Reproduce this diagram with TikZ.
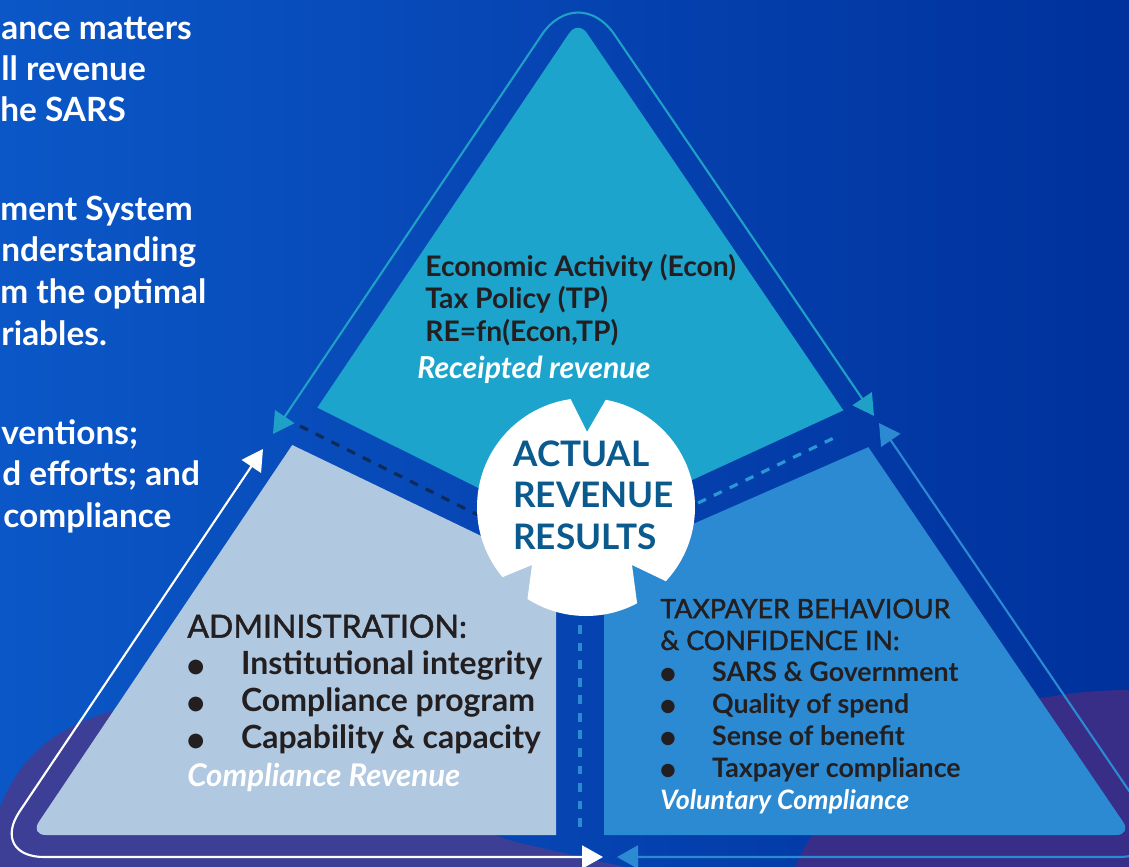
\documentclass[tikz,border=0pt]{standalone}
\usepackage{fontspec}
\setmainfont{Lato}
\newfontfamily\headfont{Lato}[FakeBold=1.5]
\newfontfamily\symfont{DejaVu Sans}
\usetikzlibrary{arrows.meta}

\definecolor{bgleft}{HTML}{0B57C7}
\definecolor{bgright}{HTML}{00319C}
\definecolor{blobleft}{HTML}{3D3F97}
\definecolor{blobright}{HTML}{382E88}
\definecolor{econcyan}{HTML}{1DA4CD}
\definecolor{adminblue}{HTML}{B0C8E0}
\definecolor{payerblue}{HTML}{2B8AD2}
\definecolor{tealline}{HTML}{1FA0C6}
\definecolor{inktext}{HTML}{231F20}
\definecolor{resultblue}{HTML}{0B5A8E}
\definecolor{darkdash}{HTML}{0C2B58}
\definecolor{lightdash}{HTML}{2A98D6}

% bullet with a fixed indent
\newcommand{\bul}[2]{\makebox[#1][l]{\raisebox{1.2pt}{\symfont\fontsize{#2}{#2}\selectfont ●}}}

\tikzset{
  sideline/.style={line width=1.2pt, rounded corners=1.1cm,
    {Triangle[length=0.42cm,width=0.46cm]}-{Triangle[length=0.42cm,width=0.46cm]}},
  banddash/.style={line width=1.8pt, dash pattern=on 5pt off 5pt},
  blocktext/.style={anchor=base west, align=left, inner sep=0pt, text=inktext},
  sidetext/.style={anchor=base west, inner sep=0pt, text=white,
    font=\bfseries\fontsize{19}{22}\selectfont},
}

\begin{document}
\begin{tikzpicture}[x=0.02cm, y=-0.02cm]
  \useasboundingbox (0,0) rectangle (1129,866);

  % background and the two soft blobs
  \shade[left color=bgleft, right color=bgright] (0,0) rectangle (1129,866);
  \fill[blobleft] (-5,820) .. controls (20,750) and (60,710) .. (200,695)
    .. controls (350,685) and (420,820) .. (520,843)
    .. controls (560,852) and (600,862) .. (640,870) -- (-5,870) -- cycle;
  \fill[blobright] (1130,940) ellipse (350 and 250);

  % corners of the inner and outer triangle
  \coordinate (apex) at (578,20);
  \coordinate (bl) at (30,835);
  \coordinate (br) at (1132,835);
  \coordinate (oapex) at (578,-19);
  \coordinate (obl) at (-11,857);
  \coordinate (obr) at (1174,857);

  % arrow ends
  \coordinate (tealL) at (273,434);
  \coordinate (whiteL) at (263,449);
  \coordinate (tealR) at (874,416);
  \coordinate (blueR) at (879,423);
  \coordinate (whiteB) at (603,857);
  \coordinate (blueB) at (617,857);

  % the three pieces
  \begin{scope}
    \clip[rounded corners=0.32cm] (apex) -- (bl) -- (br) -- cycle;
    \fill[econcyan] (258,378) -- (572.6,535) -- (905,382) -- (578,-60) -- cycle;
    \fill[adminblue] (232,416) -- (556,572) -- (556,900) -- (-50,900) -- cycle;
    \fill[payerblue] (928,421) -- (604,563) -- (604,900) -- (1200,900) -- cycle;
  \end{scope}

  % dashes in the bands
  \draw[banddash, darkdash] (300,426) -- (482,517);
  \draw[banddash, lightdash] (698,503) -- (838,436);
  \draw[banddash, payerblue] (580,625) -- (580,835);

  % white disc with three notches
  \begin{scope}
    \clip (586,507) circle (109);
    \fill[white, even odd rule] (586,507) circle (112)
      (566,390) -- (587,432) -- (612,389) -- cycle
      (493,581) -- (532,565) -- (526,610) -- cycle
      (638,610) -- (632,565) -- (678,587) -- cycle;
  \end{scope}

  % outer arrows
  \draw[sideline, white] (whiteB) -- (obl) -- (whiteL);
  \draw[sideline, tealline, rounded corners=1.3cm] (tealL) -- (oapex) -- (tealR);
  \draw[sideline, payerblue] (blueR) -- (obr) -- (blueB);

  % texts (base anchor sits on the last line)
  \node[blocktext, font=\bfseries\fontsize{16.1}{18.4}\selectfont] (econ) at (425,341)
    {Economic Activity (Econ)\\Tax Policy (TP)\\RE=fn(Econ,TP)};
  \node[blocktext, text=white, font=\bfseries\itshape\fontsize{17.2}{18.4}\selectfont] (receipted) at (417,378)
    {Receipted revenue};
  \node[blocktext, text=resultblue, font=\bfseries\fontsize{20}{23.4}\selectfont] (result) at (513,549)
    {ACTUAL\\REVENUE\\RESULTS};
  \node[blocktext, font=\fontsize{18.2}{21.1}\selectfont] (admin) at (187,786)
    {{\headfont ADMINISTRATION:}\\
     \textbf{\bul{30.6pt}{11}Institutional integrity}\\
     \textbf{\bul{30.6pt}{11}Compliance program}\\
     \textbf{\bul{30.6pt}{11}Capability \& capacity}\\
     \textcolor{white}{\textbf{\textit{\fontsize{17.8}{21.1}\selectfont Compliance Revenue}}}};
  \node[blocktext, font=\fontsize{15.25}{18.1}\selectfont] (payer) at (660,809)
    {{\headfont TAXPAYER BEHAVIOUR}\\
     {\headfont\& CONFIDENCE IN:}\\
     \textbf{\bul{29.5pt}{10}SARS \& Government}\\
     \textbf{\bul{29.5pt}{10}Quality of spend}\\
     \textbf{\bul{29.5pt}{10}Sense of benefit}\\
     \textbf{\bul{29.5pt}{10}Taxpayer compliance}\\
     \textcolor{white}{\textbf{\textit{Voluntary Compliance}}}};

  \node[sidetext] (side1) at (1,39) {ance matters};
  \node[sidetext] (side2) at (1,80) {ll revenue};
  \node[sidetext] (side3) at (0,121) {he SARS};
  \node[sidetext] (side4) at (0,220) {ment System};
  \node[sidetext] (side5) at (1,261) {nderstanding};
  \node[sidetext] (side6) at (0,303) {m the optimal};
  \node[sidetext] (side7) at (1,345) {riables.};
  \node[sidetext] (side8) at (1,444) {ventions;};
  \node[sidetext] (side9) at (2,485) {d efforts; and};
  \node[sidetext] (side10) at (3,527) {compliance};
\end{tikzpicture}
\end{document}
